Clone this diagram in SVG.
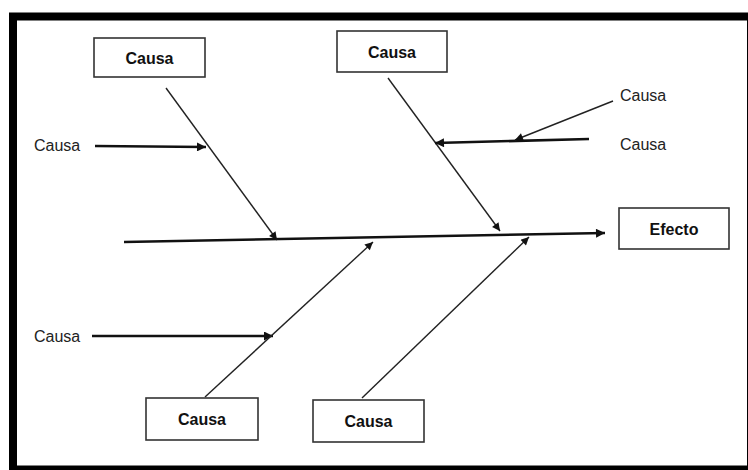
<svg xmlns="http://www.w3.org/2000/svg" width="748" height="470" viewBox="0 0 748 470">
<style>
.box{fill:#fff;stroke:#333;stroke-width:1.6}
.bt{font-family:"Liberation Sans",Arial,sans-serif;font-size:16px;font-weight:bold;fill:#111;text-anchor:middle}
.lt{font-family:"Liberation Sans",Arial,sans-serif;font-size:16px;fill:#222}
.thick{stroke:#111;stroke-width:2.6;fill:none}
.thin{stroke:#222;stroke-width:1.4;fill:none}
</style>
<defs>
<marker id="ah" markerUnits="userSpaceOnUse" viewBox="0 0 10 10" refX="10" refY="5" markerWidth="11" markerHeight="9" orient="auto">
<path d="M0,0 L10,5 L0,10 z" fill="#111"/>
</marker>
<marker id="ahs" markerUnits="userSpaceOnUse" viewBox="0 0 10 10" refX="10" refY="5" markerWidth="10" markerHeight="8" orient="auto">
<path d="M0,0 L10,5 L0,10 z" fill="#111"/>
</marker>
</defs>
<rect x="0" y="0" width="748" height="470" fill="#fff"/>
<rect x="13" y="16.5" width="738" height="453" fill="none" stroke="#000" stroke-width="8"/>
<g id="connectors">
<line class="thick" x1="124" y1="242" x2="605" y2="233" marker-end="url(#ah)"/>
<line class="thin" x1="166" y1="88" x2="277" y2="240" marker-end="url(#ahs)"/>
<line class="thick" x1="95" y1="146" x2="206" y2="147" marker-end="url(#ah)"/>
<line class="thin" x1="388" y1="78" x2="500" y2="231" marker-end="url(#ahs)"/>
<line class="thick" x1="589" y1="139" x2="435" y2="143" marker-end="url(#ah)"/>
<line class="thin" x1="613" y1="101" x2="515" y2="140" marker-end="url(#ahs)"/>
<line class="thick" x1="92" y1="336" x2="273" y2="336" marker-end="url(#ah)"/>
<line class="thin" x1="205" y1="397" x2="373" y2="242" marker-end="url(#ahs)"/>
<line class="thin" x1="362" y1="398" x2="529" y2="237" marker-end="url(#ahs)"/>
</g>
<g id="causa-top-left"><rect class="box" x="94" y="38" width="111" height="39"/><text class="bt" x="149.5" y="64">Causa</text></g>
<g id="causa-top-mid"><rect class="box" x="337" y="31" width="110" height="41"/><text class="bt" x="392" y="58">Causa</text></g>
<g id="efecto"><rect class="box" x="619" y="208" width="110" height="41"/><text class="bt" x="674" y="235">Efecto</text></g>
<g id="causa-bottom-left"><rect class="box" x="146" y="398" width="112" height="42"/><text class="bt" x="202" y="425">Causa</text></g>
<g id="causa-bottom-right"><rect class="box" x="313" y="400" width="111" height="42"/><text class="bt" x="368.5" y="427">Causa</text></g>
<g id="label-left-upper"><text class="lt" x="34" y="151">Causa</text></g>
<g id="label-left-lower"><text class="lt" x="34" y="342">Causa</text></g>
<g id="label-right-1"><text class="lt" x="620" y="101">Causa</text></g>
<g id="label-right-2"><text class="lt" x="620" y="150">Causa</text></g>
</svg>
